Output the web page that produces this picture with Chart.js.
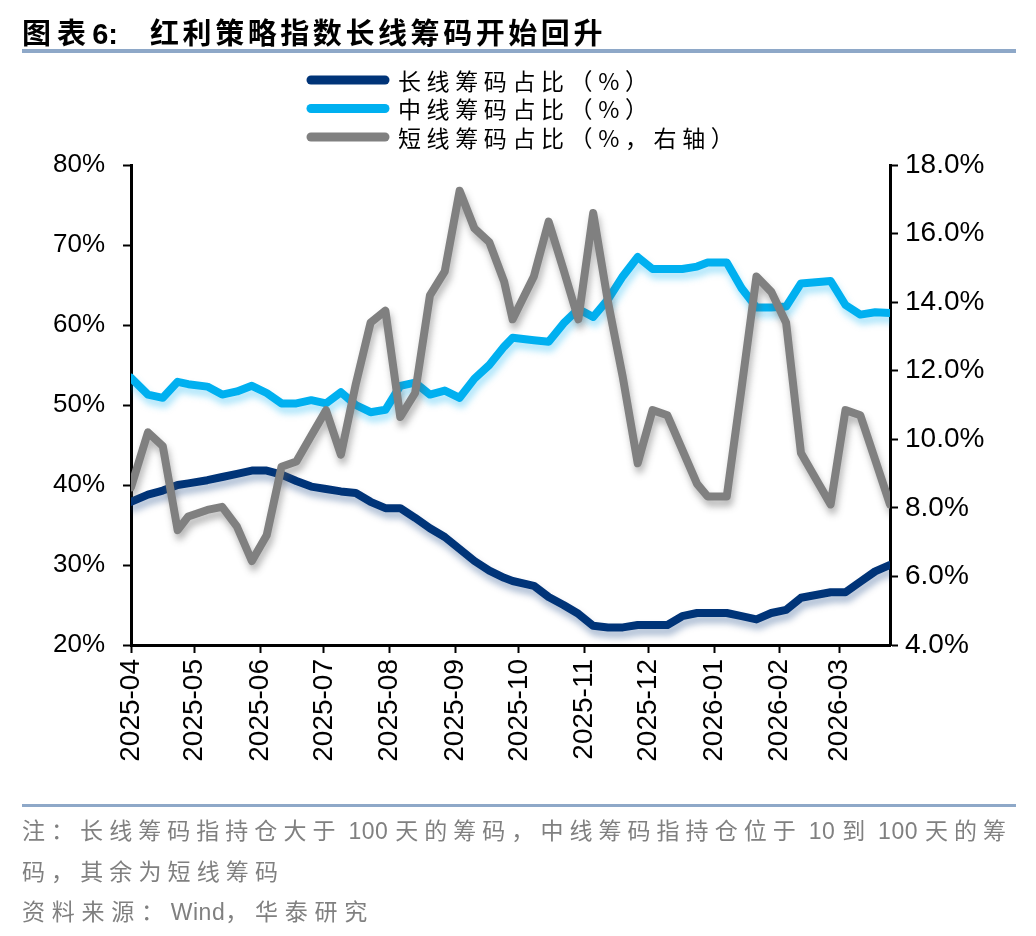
<!DOCTYPE html>
<html>
<head>
<meta charset="utf-8">
<script src="https://cdn.jsdelivr.net/npm/chart.js@4.4.1/dist/chart.umd.min.js"></script>
<style>
html,body{margin:0;padding:0;background:#fff;}
#wrap{position:relative;width:1036px;height:936px;overflow:hidden;background:#fff;}
canvas{position:absolute;left:0;top:0;}
.t{position:absolute;white-space:nowrap;font-family:"Noto Sans CJK SC";}
.title{font-weight:700;font-size:29px;color:#000;line-height:36px;top:13px;}
.title .a{letter-spacing:0px;font-family:Arial,"Liberation Sans";}
.rule{position:absolute;left:22px;width:994px;height:4px;background:#8EA8C8;}
.note{font-size:23px;color:#808080;line-height:30px;}
.note .a{letter-spacing:0.5px;font-family:"Liberation Sans Narrow","Liberation Sans",Arial;}
</style>
</head>
<body>
<div id="wrap">
  <canvas id="c" width="1036" height="936"></canvas>
  <span class="t title" id="t1" style="left:22px">图表6:</span>
  <span class="t title" id="t2" style="left:150px">红利策略指数长线筹码开始回升</span>
  <div class="rule" style="top:49px"></div>
  <div class="rule" style="top:804px;height:3px"></div>
  <span class="t note" id="n1" style="left:22px;top:814px">注：长线筹码指持仓大于 100 天的筹码，中线筹码指持仓位于 10 到 100 天的筹</span>
  <span class="t note" id="n2" style="left:22px;top:855px">码，其余为短线筹码</span>
  <span class="t note" id="n3" style="left:22px;top:895px">资料来源：Wind，华泰研究</span>
</div>
<script>
// ---- data ----
const dates = ['2025-04-03','2025-04-11','2025-04-18','2025-04-25','2025-04-30','2025-05-09','2025-05-16','2025-05-23','2025-05-30','2025-06-06',
  '2025-06-13','2025-06-20','2025-06-27','2025-07-04','2025-07-11','2025-07-18','2025-07-25','2025-08-01','2025-08-08','2025-08-15',
  '2025-08-22','2025-08-29','2025-09-05','2025-09-12','2025-09-19','2025-09-26','2025-09-30','2025-10-10','2025-10-17','2025-10-24',
  '2025-10-31','2025-11-07','2025-11-14','2025-11-21','2025-11-28','2025-12-05','2025-12-12','2025-12-19','2025-12-26','2025-12-31',
  '2026-01-09','2026-01-16','2026-01-23','2026-01-30','2026-02-06','2026-02-13','2026-02-27','2026-03-06','2026-03-13','2026-03-20','2026-03-27'];
const longTerm = [37.9,38.8,39.3,40.0,40.2,40.6,41.0,41.4,41.8,41.8,
  41.3,40.5,39.8,39.5,39.2,39.0,37.9,37.1,37.1,35.9,
  34.6,33.5,32.0,30.5,29.3,28.4,28.0,27.4,26.0,25.0,
  23.9,22.4,22.2,22.2,22.5,22.5,22.5,23.6,24.0,24.0,
  24.0,23.6,23.2,24.0,24.4,25.9,26.6,26.6,27.9,29.2,30.0];
const midTerm = [53.4,51.3,50.9,52.9,52.6,52.3,51.3,51.7,52.4,51.5,
  50.2,50.2,50.6,50.2,51.6,50.0,49.1,49.4,52.4,52.8,
  51.3,51.8,50.9,53.3,55.0,57.3,58.4,58.1,57.9,60.2,
  62.0,61.0,63.2,66.1,68.5,67.0,67.0,67.0,67.3,67.8,
  67.8,64.6,62.2,62.2,62.3,65.2,65.5,62.5,61.3,61.6,61.5];
const shortTerm = [8.6,10.2,9.8,7.35,7.75,7.94,8.03,7.45,6.45,7.2,
  9.2,9.35,10.1,10.85,9.55,11.6,13.4,13.75,10.65,11.35,
  14.2,14.9,17.25,16.15,15.75,14.6,13.5,14.75,16.35,14.95,
  13.5,16.6,14.0,11.8,9.3,10.85,10.7,9.7,8.7,8.33,
  8.33,11.5,14.75,14.3,13.4,9.6,8.1,10.85,10.7,9.4,8.1];
const seriesNames = ['长线筹码占比（%）','中线筹码占比（%）','短线筹码占比（%，右轴）'];
const monthLabels = ['2025-04','2025-05','2025-06','2025-07','2025-08','2025-09','2025-10','2025-11','2025-12','2026-01','2026-02','2026-03'];
const leftTicks = [20,30,40,50,60,70,80];
const rightTicks = [4,6,8,10,12,14,16,18];

// ---- helpers ----
const DAY = 86400000;
const t0 = Date.parse(dates[0]);
const dayOf = s => (Date.parse(s) - t0) / DAY;
const startDay = dates[0].slice(8);
const monthTickValues = monthLabels.map(m => dayOf(m + '-' + startDay));
const pts = arr => arr.map((v, i) => ({x: dayOf(dates[i]), y: v}));

const shadowPlugin = {
  id: 'softShadow',
  beforeDatasetDraw(chart, args) {
    const ds = chart.data.datasets[args.index];
    const ctx = chart.ctx;
    ctx.save();
    ctx.shadowColor = ds.shadowColor;
    ctx.shadowBlur = 7;
    ctx.shadowOffsetX = 2;
    ctx.shadowOffsetY = 6;
  },
  afterDatasetDraw(chart) { chart.ctx.restore(); }
};

const legendPlugin = {
  id: 'stackLegend',
  afterDraw(chart) {
    const ctx = chart.ctx;
    chart.data.datasets.forEach((ds, i) => {
      const y = 80 + i * 28.5;
      ctx.save();
      ctx.strokeStyle = ds.borderColor;
      ctx.lineWidth = 9;
      ctx.lineCap = 'round';
      ctx.beginPath();
      ctx.moveTo(311, y);
      ctx.lineTo(385, y);
      ctx.stroke();
      ctx.font = '23px "Noto Sans CJK SC"';
      try { ctx.letterSpacing = '5.6px'; } catch (e) {}
      ctx.fillStyle = '#000';
      ctx.textBaseline = 'middle';
      ctx.textAlign = 'left';
      ctx.fillText(ds.label, 398, y + 1);
      ctx.restore();
    });
  }
};

const axisCommon = {
  grid: {display: true, drawOnChartArea: false, drawTicks: true, tickLength: 8, tickWidth: 2, tickColor: '#000'},
  border: {display: true, color: '#000', width: 3}
};

new Chart(document.getElementById('c'), {
  type: 'line',
  data: {
    datasets: [
      {label: seriesNames[0], data: pts(longTerm), yAxisID: 'yL', borderColor: '#003478', shadowColor: 'rgba(0,52,120,0.35)', order: 2},
      {label: seriesNames[1], data: pts(midTerm), yAxisID: 'yL', borderColor: '#00B0F0', shadowColor: 'rgba(0,176,240,0.35)', order: 1},
      {label: seriesNames[2], data: pts(shortTerm), yAxisID: 'yR', borderColor: '#808080', shadowColor: 'rgba(90,90,90,0.45)', order: 0}
    ]
  },
  options: {
    responsive: false,
    animation: false,
    devicePixelRatio: 1,
    layout: {padding: {top: 165, bottom: 141, left: 0, right: 0}},
    elements: {
      line: {borderWidth: 8, tension: 0, borderJoinStyle: 'round', borderCapStyle: 'round', fill: false},
      point: {radius: 0, hoverRadius: 0}
    },
    plugins: {legend: {display: false}, tooltip: {enabled: false}},
    scales: {
      x: Object.assign({}, axisCommon, {
        type: 'linear',
        min: 0,
        max: dayOf(dates[dates.length - 1]),
        afterBuildTicks: s => { s.ticks = monthTickValues.map(v => ({value: v})); },
        afterFit: s => { s.height = 150; },
        ticks: {
          autoSkip: false, minRotation: 90, maxRotation: 90, padding: 6, color: '#000',
          font: {family: 'Arial, "Liberation Sans"', size: 28},
          callback: (v) => { const k = monthTickValues.indexOf(v); return k >= 0 ? monthLabels[k] : ''; }
        }
      }),
      yL: Object.assign({}, axisCommon, {
        position: 'left',
        min: leftTicks[0], max: leftTicks[leftTicks.length - 1],
        afterBuildTicks: s => { s.ticks = leftTicks.map(v => ({value: v})); },
        afterFit: s => { s.width = 131; },
        ticks: {padding: 18, color: '#000', font: {family: 'Arial, "Liberation Sans"', size: 26}, callback: v => v + '%'}
      }),
      yR: Object.assign({}, axisCommon, {
        position: 'right',
        min: rightTicks[0], max: rightTicks[rightTicks.length - 1],
        afterBuildTicks: s => { s.ticks = rightTicks.map(v => ({value: v})); },
        afterFit: s => { s.width = 146; },
        ticks: {padding: 7, color: '#000', font: {family: 'Arial, "Liberation Sans"', size: 28}, callback: v => v.toFixed(1) + '%'}
      })
    }
  },
  plugins: [shadowPlugin, legendPlugin]
});

// keep Latin runs tight, spread CJK glyphs to reach the reference line length
function fit(id, target) {
  const el = document.getElementById(id);
  const txt = el.textContent;
  el.innerHTML = txt.replace(/[ A-Za-z0-9:]+/g, m => '<span class="a">' + m + '</span>');
  el.style.letterSpacing = '0px';
  const w0 = el.getBoundingClientRect().width;
  let n = 0;
  for (const ch of txt) if (!/[ A-Za-z0-9:]/.test(ch)) n++;
  el.style.letterSpacing = ((target - w0) / Math.max(n, 1)) + 'px';
}
fit('t1', 96);
fit('t2', 456);
fit('n1', 990);
fit('n2', 262);
fit('n3', 352);
</script>
</body>
</html>
